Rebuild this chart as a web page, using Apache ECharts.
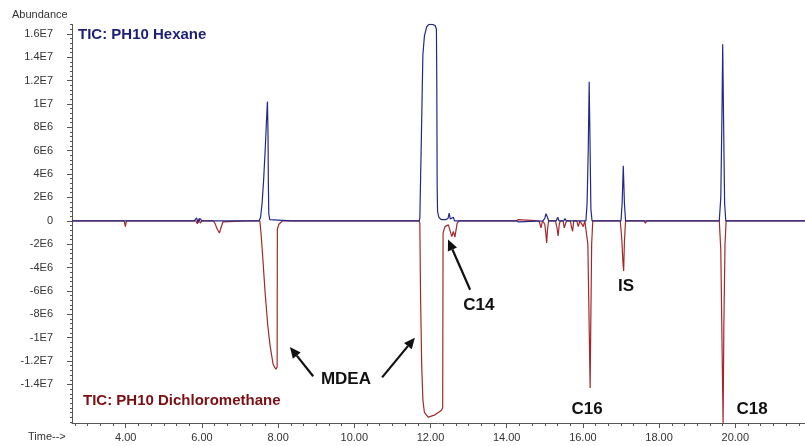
<!DOCTYPE html>
<html>
<head>
<meta charset="utf-8">
<script src="https://cdn.jsdelivr.net/npm/echarts@6/dist/echarts.min.js"></script>
<style>
  html, body { margin: 0; padding: 0; background: #fff; }
  #chart { width: 805px; height: 446px; }
</style>
</head>
<body>
<div id="chart"></div>
<script>
// TIC 色谱图：上方为正己烷萃取，下方为二氯甲烷萃取（取负值）
// 丰度单位：1E6

const T_MIN = 2.59;
const T_MAX = 21.83;
const Y_MIN = -17.3e6;
const Y_MAX = 16.8e6;

// [时间(min), 丰度(1E6)]
const hexane = [
    [2.59, 0], [5.80, 0], [5.86, 0.25], [5.90, -0.15], [5.94, 0.2], [6.00, 0],
    [7.18, 0], [7.20, 0.1], [7.22, 0],
    [7.50, 0], [7.54, 0.3], [7.58, 1.5], [7.62, 3.5], [7.66, 6.0], [7.69, 8.2], [7.71, 9.6], [7.72, 10.2],
    [7.735, 7.5], [7.745, 3.0], [7.755, 0.6], [7.78, 0.1], [7.82, 0],
    [8.35, 0], [8.38, 0.1], [8.41, 0],
    [11.70, 0], [11.72, 0.2], [11.76, 7.0], [11.80, 14.2], [11.84, 15.8], [11.90, 16.6], [11.96, 16.8],
    [12.05, 16.8], [12.12, 16.7], [12.155, 16.4], [12.165, 12.0], [12.175, 3.0], [12.185, 0.8],
    [12.22, 0.3], [12.28, 0.1], [12.40, 0.1], [12.46, 0.2], [12.49, 0.65], [12.52, 0.15],
    [12.57, 0.05], [12.60, 0.3], [12.63, 0],
    [13.10, 0], [13.12, 0.1], [13.14, 0],
    [14.25, 0], [14.28, 0.15], [14.31, -0.1], [14.34, 0],
    [14.95, 0], [15.00, 0.2], [15.03, 0.6], [15.05, 0.75], [15.07, 0.3], [15.10, 0],
    [15.30, 0], [15.34, 0.3], [15.37, 0], [15.50, 0], [15.53, 0.2], [15.56, 0],
    [16.08, 0], [16.11, 1.5], [16.14, 6.0], [16.165, 11.9], [16.19, 6.0], [16.21, 1.0], [16.24, 0],
    [17.00, 0], [17.03, 1.5], [17.06, 4.7], [17.09, 1.5], [17.12, 0],
    [17.35, 0], [17.38, 0.15], [17.41, 0], [17.90, 0], [17.93, 0.15], [17.96, 0],
    [19.10, 0], [19.14, 0.12], [19.18, 0],
    [19.58, 0], [19.62, 2.0], [19.65, 9.0], [19.67, 15.1], [19.695, 8.0], [19.72, 1.5], [19.75, 0],
    [21.83, 0]
];

const dichloromethane = [
    [2.59, 0], [3.96, 0], [3.99, -0.5], [4.02, 0],
    [5.84, 0], [5.88, -0.25], [5.92, 0.15], [5.96, -0.2], [6.00, 0],
    [6.30, 0], [6.34, -0.2], [6.40, -0.7], [6.46, -1.05], [6.50, -0.6], [6.55, -0.1], [6.60, 0],
    [7.15, 0], [7.18, -0.1], [7.21, 0],
    [7.52, 0], [7.55, -1.0], [7.59, -2.8], [7.66, -6.2], [7.73, -9.0], [7.79, -10.7], [7.87, -12.3],
    [7.94, -12.7], [7.975, -12.5], [7.98, -0.7], [8.02, -0.3], [8.06, -0.15], [8.12, 0],
    [8.50, 0], [8.53, -0.1], [8.56, 0], [8.95, 0], [8.98, -0.1], [9.01, 0], [9.30, 0], [9.33, -0.1], [9.36, 0],
    [11.70, 0], [11.72, -0.2], [11.74, -6.75], [11.77, -12.5], [11.80, -15.3], [11.84, -16.4],
    [11.94, -16.8], [12.12, -16.6], [12.29, -16.2], [12.32, -16.0], [12.33, -1.05], [12.38, -0.5],
    [12.47, -0.35], [12.56, -1.35], [12.60, -0.9], [12.64, -1.4], [12.70, -0.2], [12.75, 0],
    [14.25, 0], [14.28, -0.15], [14.31, 0.1], [14.34, 0],
    [14.85, 0], [14.90, -0.6], [14.94, 0], [15.00, -0.3], [15.03, -1.2], [15.05, -1.9], [15.07, -0.8], [15.10, 0],
    [15.28, 0], [15.32, -0.6], [15.35, -1.3], [15.38, -0.3], [15.41, 0],
    [15.48, 0], [15.51, -0.6], [15.54, -0.3], [15.57, 0],
    [15.67, 0], [15.70, -0.5], [15.73, -0.9], [15.76, 0],
    [15.84, 0], [15.88, -0.5], [15.92, 0], [15.97, 0], [16.01, -0.5], [16.05, 0],
    [16.10, 0], [16.13, -2.0], [16.16, -8.0], [16.19, -14.3], [16.21, -8.0], [16.23, -2.0], [16.26, 0],
    [16.98, 0], [17.02, -1.5], [17.05, -3.5], [17.07, -4.3], [17.09, -1.8], [17.12, 0],
    [17.35, 0], [17.38, -0.15], [17.41, 0], [17.60, 0], [17.64, -0.2], [17.68, 0], [17.90, 0], [17.93, -0.1], [17.96, 0],
    [19.58, 0], [19.62, -2.5], [19.65, -10.0], [19.68, -17.3], [19.70, -9.0], [19.73, -2.0], [19.76, 0],
    [21.83, 0]
];

// 坐标轴刻度
const xTickValues = [4, 6, 8, 10, 12, 14, 16, 18, 20];
const yTickValues = [16e6, 14e6, 12e6, 10e6, 8e6, 6e6, 4e6, 2e6, 0,
    -2e6, -4e6, -6e6, -8e6, -10e6, -12e6, -14e6];
const yTickLabels = ['1.6E7', '1.4E7', '1.2E7', '1E7', '8E6', '6E6', '4E6', '2E6', '0',
    '-2E6', '-4E6', '-6E6', '-8E6', '-1E7', '-1.2E7', '-1.4E7'];

// 峰标注：[文字, 时间, 丰度(1E6)]
const peakLabels = [
    ['MDEA', 9.78, -13.6],
    ['C14', 13.27, -7.2],
    ['IS', 17.13, -5.6],
    ['C16', 16.11, -16.1],
    ['C18', 20.44, -16.1]
];
// 箭头：[尾时间, 尾丰度, 头时间, 头丰度]
const arrows = [
    [8.92, -13.3, 8.31, -10.8],
    [10.73, -13.4, 11.59, -10.0],
    [13.04, -5.9, 12.46, -1.6]
];

// 次刻度
const xMinorTicks = [];
for (let i = 8; i <= 65; i++) xMinorTicks.push(i / 3);
const yMinorTicks = [];
for (let i = -43; i <= 42; i++) yMinorTicks.push(i * 4e5);

const FONT = '"Liberation Sans", Arial, sans-serif';
const BLUE = '#24288a';
const RED = '#a3282c';

const chart = echarts.init(document.getElementById('chart'));

const option = {
    animation: false,
    grid: { left: 72, right: 0, top: 24.4, bottom: 23, containLabel: false },
    xAxis: [
        {
            type: 'value', min: T_MIN, max: T_MAX, position: 'bottom',
            axisLine: { onZero: false, lineStyle: { color: '#555', width: 1 } },
            axisTick: { customValues: xTickValues, length: 5, lineStyle: { color: '#555' } },
            axisLabel: {
                customValues: xTickValues, margin: 9, color: '#333', fontSize: 11, fontFamily: FONT,
                formatter: (v) => v.toFixed(2)
            },
            splitLine: { show: false }
        },
        {
            type: 'value', min: T_MIN, max: T_MAX, position: 'bottom',
            axisLine: { show: false, onZero: false },
            axisTick: { customValues: xMinorTicks, length: 3, lineStyle: { color: '#555' } },
            axisLabel: { show: false },
            splitLine: { show: false }
        }
    ],
    yAxis: [
        {
            type: 'value', min: Y_MIN, max: Y_MAX, position: 'left',
            axisLine: { show: true, onZero: false, lineStyle: { color: '#555', width: 1 } },
            axisTick: { show: true, customValues: yTickValues, length: 5, lineStyle: { color: '#555' } },
            axisLabel: {
                customValues: yTickValues, margin: 19, color: '#333', fontSize: 11, fontFamily: FONT,
                formatter: (v) => {
                    const i = yTickValues.findIndex(t => Math.abs(t - v) < 1);
                    return i >= 0 ? yTickLabels[i] : '';
                }
            },
            splitLine: { show: false }
        },
        {
            type: 'value', min: Y_MIN, max: Y_MAX, position: 'left',
            axisLine: { show: false, onZero: false },
            axisTick: { show: true, customValues: yMinorTicks, length: 2, lineStyle: { color: '#555' } },
            axisLabel: { show: false },
            splitLine: { show: false }
        }
    ],
    series: [
        {
            name: 'TIC: PH10 Dichloromethane',
            type: 'line',
            xAxisIndex: 0, yAxisIndex: 0,
            showSymbol: false,
            data: dichloromethane.map(p => [p[0], p[1] * 1e6]),
            lineStyle: { color: RED, width: 1.2 }
        },
        {
            name: 'TIC: PH10 Hexane',
            type: 'line',
            xAxisIndex: 0, yAxisIndex: 0,
            showSymbol: false,
            data: hexane.map(p => [p[0], p[1] * 1e6]),
            lineStyle: { color: BLUE, width: 1.2 }
        }
    ],
    graphic: [
        {
            type: 'text', left: 12, top: 9,
            style: { text: 'Abundance', fill: '#333', font: '11px ' + FONT }
        },
        {
            type: 'text', left: 28, top: 431,
            style: { text: 'Time-->', fill: '#333', font: '11px ' + FONT }
        },
        {
            type: 'text', left: 78, top: 27,
            style: { text: 'TIC: PH10 Hexane', fill: '#1c1f78', font: 'bold 15px ' + FONT }
        },
        {
            type: 'text', left: 83, top: 393,
            style: { text: 'TIC: PH10 Dichloromethane', fill: '#7a1014', font: 'bold 15px ' + FONT }
        }
    ]
};

chart.setOption(option);

// 峰标注与箭头，按数据坐标换算到像素
function toPx(t, v) {
    return chart.convertToPixel({ gridIndex: 0 }, [t, v * 1e6]);
}

const extra = [];
peakLabels.forEach(([text, t, v], i) => {
    const p = toPx(t, v);
    extra.push({
        type: 'text', id: 'lbl' + i, x: p[0], y: p[1],
        style: {
            text: text, fill: '#111', font: 'bold 17px ' + FONT,
            align: 'center', verticalAlign: 'middle'
        }
    });
});
arrows.forEach(([t1, v1, t2, v2], i) => {
    const a = toPx(t1, v1);
    const b = toPx(t2, v2);
    const dx = b[0] - a[0], dy = b[1] - a[1];
    const len = Math.sqrt(dx * dx + dy * dy);
    const ux = dx / len, uy = dy / len;
    const headLen = 11, headW = 5;
    const base = [b[0] - ux * headLen, b[1] - uy * headLen];
    extra.push({
        type: 'line', id: 'arl' + i,
        shape: { x1: a[0], y1: a[1], x2: base[0], y2: base[1] },
        style: { stroke: '#111', lineWidth: 2.2 }
    });
    extra.push({
        type: 'polygon', id: 'arh' + i,
        shape: {
            points: [
                [b[0], b[1]],
                [base[0] - uy * headW, base[1] + ux * headW],
                [base[0] + uy * headW, base[1] - ux * headW]
            ]
        },
        style: { fill: '#111' }
    });
});
chart.setOption({ graphic: extra });
</script>
</body>
</html>
